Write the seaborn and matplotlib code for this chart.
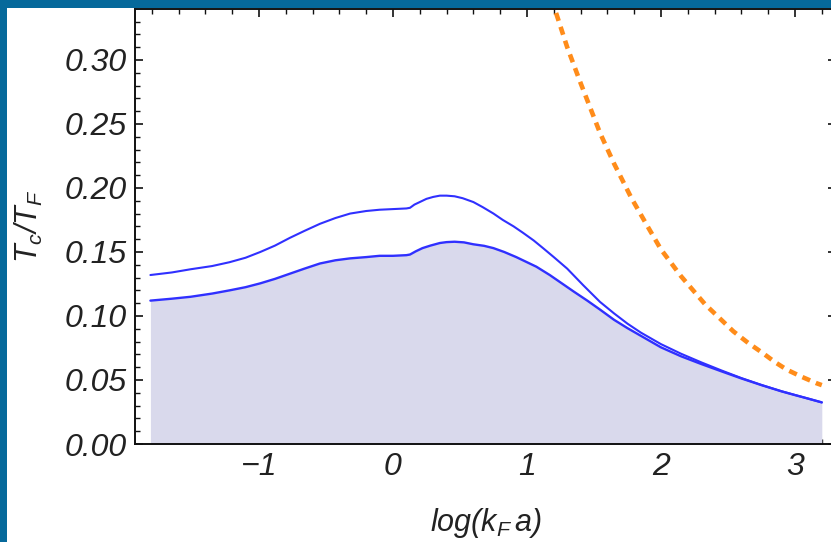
import numpy as np
import pandas as pd
import matplotlib
matplotlib.use("Agg")
import matplotlib.pyplot as plt
import seaborn as sns
from matplotlib.patches import Rectangle
from matplotlib.ticker import MultipleLocator, FormatStrFormatter

# ── data ──────────────────────────────────────────────────────────────────
x_upper = [-1.81, -1.65, -1.51, -1.35, -1.22, -1.1, -0.99, -0.88, -0.77, -0.66,
           -0.545, -0.43, -0.32, -0.2, -0.1, 0.0, 0.10, 0.127, 0.16, 0.20,
           0.25, 0.30, 0.35, 0.40, 0.46, 0.52, 0.60, 0.67, 0.75, 0.82,
           0.90, 0.97, 1.05, 1.12, 1.20, 1.30, 1.42, 1.545, 1.65, 1.75,
           1.85, 2.0, 2.15, 2.3, 2.45, 2.6, 2.75, 2.9, 3.0, 3.1, 3.2]
tc_upper = [0.132, 0.134, 0.1365, 0.139, 0.142, 0.1455, 0.150, 0.155, 0.161, 0.1665,
            0.172, 0.1765, 0.180, 0.182, 0.183, 0.1835, 0.184, 0.1845, 0.187, 0.189,
            0.1915, 0.193, 0.194, 0.194, 0.1935, 0.192, 0.189, 0.185, 0.180, 0.175,
            0.170, 0.165, 0.159, 0.153, 0.146, 0.137, 0.124, 0.111, 0.102, 0.094,
            0.087, 0.078, 0.0705, 0.0638, 0.0575, 0.0515, 0.0461, 0.0412, 0.0383, 0.0354, 0.0325]

x_lower = [-1.81, -1.65, -1.51, -1.35, -1.22, -1.1, -0.99, -0.88, -0.77, -0.66,
           -0.545, -0.43, -0.32, -0.2, -0.1, 0.0, 0.10, 0.127, 0.17, 0.22,
           0.28, 0.35, 0.40, 0.46, 0.53, 0.60, 0.68, 0.75, 0.83, 0.92,
           1.0, 1.07, 1.17, 1.26, 1.35, 1.45, 1.545, 1.65, 1.75, 1.85,
           2.0, 2.15, 2.3, 2.45, 2.6, 2.75, 2.9, 3.0, 3.1, 3.2]
tc_lower = [0.112, 0.1135, 0.115, 0.1175, 0.120, 0.1225, 0.1255, 0.129, 0.133, 0.137,
            0.141, 0.1435, 0.145, 0.146, 0.147, 0.147, 0.1475, 0.148, 0.1505, 0.153,
            0.155, 0.157, 0.1577, 0.158, 0.1575, 0.156, 0.1548, 0.153, 0.150, 0.146,
            0.142, 0.1385, 0.132, 0.1255, 0.119, 0.112, 0.105, 0.097, 0.0905, 0.0845,
            0.0755, 0.0685, 0.0625, 0.0568, 0.0512, 0.046, 0.0411, 0.0382, 0.0354, 0.0325]

x_bcs = [1.15, 1.21, 1.30, 1.40, 1.545, 1.65, 1.78, 1.90, 2.0, 2.15,
         2.33, 2.45, 2.54, 2.65, 2.76, 2.85, 2.94, 3.05, 3.16, 3.2]
tc_bcs = [0.36, 0.339, 0.31, 0.282, 0.243, 0.219, 0.192, 0.170, 0.152, 0.131,
          0.109, 0.097, 0.088, 0.079, 0.071, 0.064, 0.058, 0.0525, 0.0475, 0.046]

upper = pd.DataFrame({"x": x_upper, "tc": tc_upper})
lower = pd.DataFrame({"x": x_lower, "tc": tc_lower})
bcs = pd.DataFrame({"x": x_bcs, "tc": tc_bcs})

sns.set_theme(style="ticks")
plt.rcParams["font.family"] = ["Liberation Sans", "DejaVu Sans"]
plt.rcParams["font.style"] = "italic"
plt.rcParams["mathtext.fontset"] = "custom"
plt.rcParams["mathtext.rm"] = "Liberation Sans:italic"
plt.rcParams["mathtext.it"] = "Liberation Sans:italic"
plt.rcParams["mathtext.default"] = "it"
plt.rcParams["lines.scale_dashes"] = False

W, H = 831, 542
fig = plt.figure(figsize=(W / 100, H / 100), dpi=100, facecolor="#06699b")
fig.patches.append(Rectangle((7 / W, 0), 1, (H - 8) / H, transform=fig.transFigure,
                             facecolor="white", edgecolor="none", zorder=-10))

ax = fig.add_axes([135 / W, (H - 444) / H, (836 - 135) / W, (444 - 9) / H])
ax.set_facecolor("white")

ax.fill_between(lower["x"], 0, lower["tc"], color="#d9d9ec", lw=0, zorder=1)
sns.lineplot(data=upper, x="x", y="tc", ax=ax, color="#3030ff", lw=1.5, sort=False, zorder=3)
sns.lineplot(data=lower, x="x", y="tc", ax=ax, color="#3030ff", lw=1.7, sort=False, zorder=3)
ax.plot(bcs["x"], bcs["tc"], color="#ff8c1a", lw=3.3, dashes=(6, 4.5), zorder=2)

ax.set_xlim(-1.925, 3.306)
ax.set_ylim(0, 0.3398)
ax.xaxis.set_major_locator(MultipleLocator(1))
ax.xaxis.set_minor_locator(MultipleLocator(0.2))
ax.yaxis.set_major_locator(MultipleLocator(0.05))
ax.yaxis.set_minor_locator(MultipleLocator(0.01))
ax.yaxis.set_major_formatter(FormatStrFormatter("%.2f"))

for s in ax.spines.values():
    s.set_linewidth(1.4)
    s.set_color("#111111")
ax.tick_params(which="both", direction="in", top=True, right=True, color="#111111",
               labelsize=23, labelcolor="#222222")
ax.tick_params(which="major", length=6, width=1.2)
ax.tick_params(which="minor", length=3.6, width=1.0)
ax.tick_params(axis="x", pad=6)
ax.tick_params(axis="y", pad=6)

ax.set_xlabel(r"$log(k_F\,a)$", fontsize=22, color="#222222", labelpad=17)
ax.set_ylabel(r"$T_c/T_F$", fontsize=22, color="#222222", labelpad=14)
ax.grid(False)

fig.savefig("out.png", dpi=100, facecolor=fig.get_facecolor())
